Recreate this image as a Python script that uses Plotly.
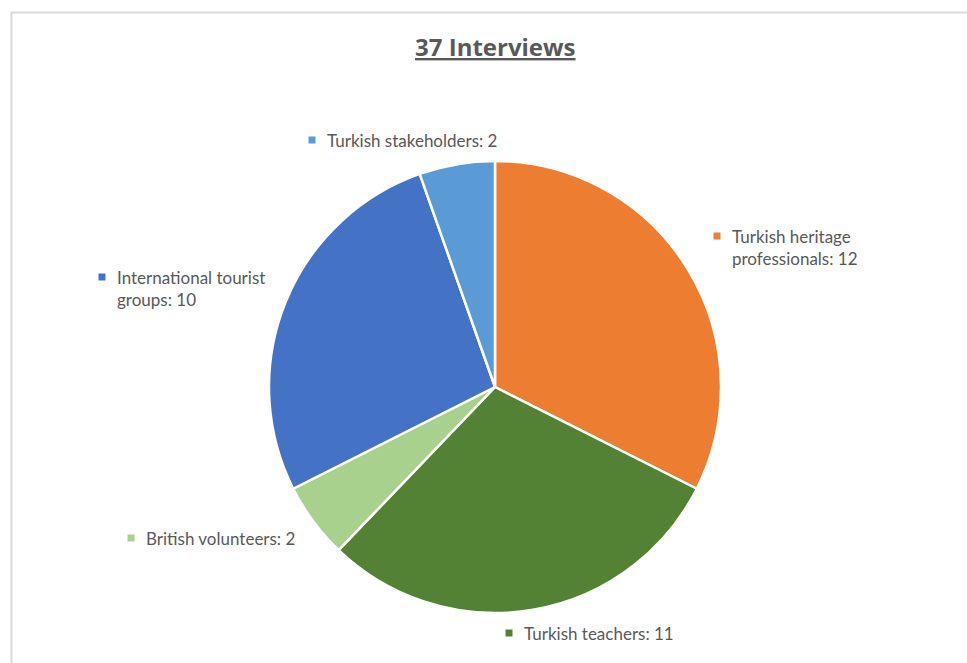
import plotly.graph_objects as go

W, H = 967, 663

labels = ["Turkish heritage professionals", "Turkish teachers", "British volunteers",
          "International tourist groups", "Turkish stakeholders"]
values = [12, 11, 2, 10, 2]
colors = ["#ED7D31", "#548235", "#A9D18E", "#4472C4", "#5B9BD5"]
label_text = ["Turkish heritage<br>professionals: 12", "Turkish teachers: 11",
              "British volunteers: 2", "International tourist<br>groups: 10",
              "Turkish stakeholders: 2"]
title_text = "37 Interviews"

# label anchor positions in pixels (marker centre x, y)
label_pos = [(717, 236), (509, 633), (131, 538), (102, 277), (312, 140)]
label_dy = [11, 0, 0, 11.5, 0]

def px(x):
    return x / W

def py(y):
    return 1 - y / H

fig = go.Figure()
fig.add_trace(go.Pie(
    labels=labels, values=values, sort=False, direction="clockwise", rotation=0,
    marker=dict(colors=colors, line=dict(color="white", width=2.5)),
    textinfo="none", hoverinfo="label+value", showlegend=False,
    domain=dict(x=[px(269), px(721)], y=[py(613), py(161)]),
))

shapes = [
    dict(type="line", xref="paper", yref="paper", x0=px(11), x1=px(967), y0=py(12.5), y1=py(12.5),
         line=dict(color="#D9D9D9", width=2)),
    dict(type="line", xref="paper", yref="paper", x0=px(11.5), x1=px(11.5), y0=py(12), y1=py(663),
         line=dict(color="#D9D9D9", width=2)),
]
annotations = [dict(text="<b><u>" + title_text + "</u></b>", x=px(495), y=py(47), xref="paper", yref="paper",
                    showarrow=False, xanchor="center", yanchor="middle",
                    font=dict(family="Open Sans", size=24, color="#595959"))]
for (mx, my), t, c, dy in zip(label_pos, label_text, colors, label_dy):
    shapes.append(dict(type="rect", xref="paper", yref="paper",
                       x0=px(mx - 3.5), x1=px(mx + 3.5), y0=py(my - 3.5), y1=py(my + 3.5),
                       fillcolor=c, line=dict(width=0)))
    annotations.append(dict(text=t, x=px(mx + 13), y=py(my + dy), xref="paper", yref="paper",
                            showarrow=False, xanchor="left", yanchor="middle", align="left",
                            font=dict(family="Lato", size=17, color="#595959")))

fig.update_layout(width=W, height=H, margin=dict(l=0, r=0, t=0, b=0),
                  paper_bgcolor="white", plot_bgcolor="white",
                  shapes=shapes, annotations=annotations)
fig.write_html("out.html")
